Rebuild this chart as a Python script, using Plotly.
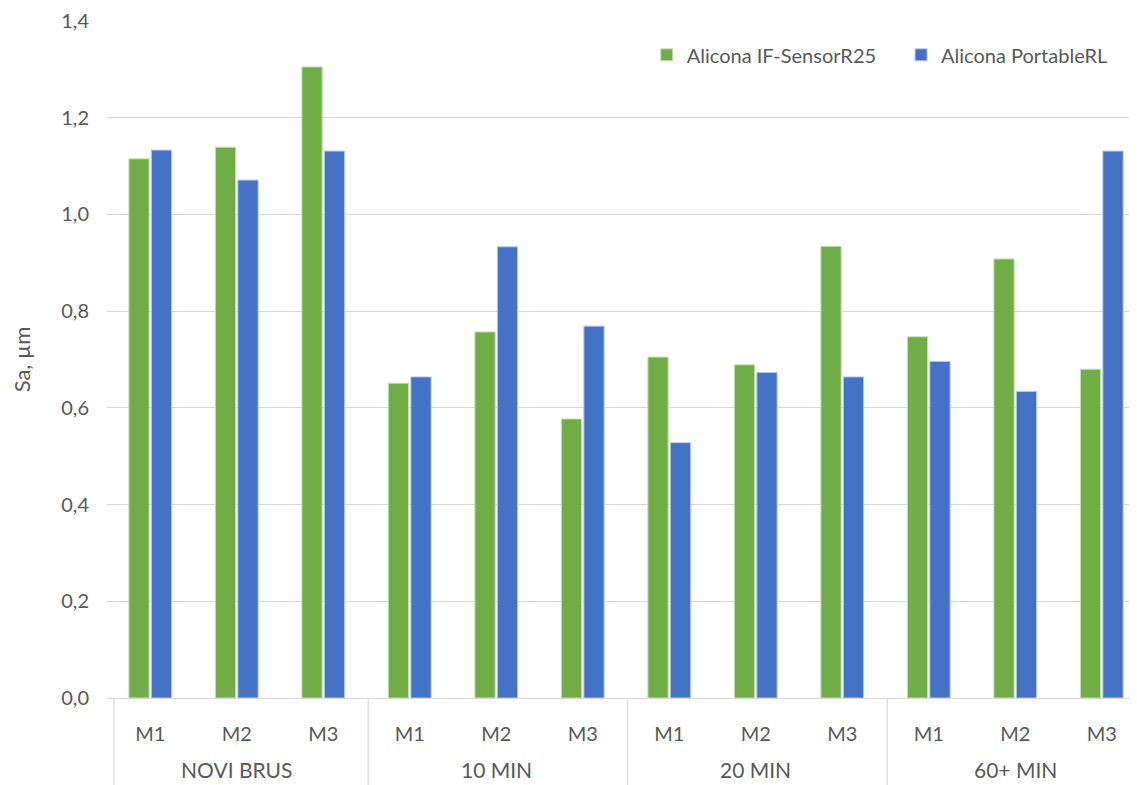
import plotly.graph_objects as go

groups = ["NOVI BRUS"] * 3 + ["10 MIN"] * 3 + ["20 MIN"] * 3 + ["60+ MIN"] * 3
samples = ["M1", "M2", "M3"] * 4
group_names = ["NOVI BRUS", "10 MIN", "20 MIN", "60+ MIN"]
sensor_r25 = [1.115, 1.139, 1.305, 0.651, 0.757, 0.577, 0.705, 0.689, 0.934, 0.747, 0.908, 0.680]
portable_rl = [1.133, 1.071, 1.131, 0.664, 0.933, 0.769, 0.528, 0.673, 0.664, 0.696, 0.634, 1.131]

keys = [f"{g}|{s}" for g, s in zip(groups, samples)]

FONT = "Lato, 'Open Sans', sans-serif"
GRAY = "#595959"
LINE = "#d9d9d9"

fig = go.Figure()
fig.add_trace(go.Bar(x=keys, y=sensor_r25, name="Alicona IF-SensorR25", legend="legend",
                     marker=dict(color="#70ad47", line=dict(color="#c5e0b4", width=1))))
fig.add_trace(go.Bar(x=keys, y=portable_rl, name="Alicona PortableRL", legend="legend2",
                     marker=dict(color="#4472c4", line=dict(color="#b4c7e7", width=1))))

# group labels (centred under the middle category of each group)
for name in group_names:
    idx = [i for i, g in enumerate(groups) if g == name]
    mid = keys[idx[len(idx) // 2]]
    fig.add_annotation(x=mid, xref="x", y=-0.106, yref="paper", text=name,
                       showarrow=False, yanchor="middle",
                       font=dict(family=FONT, size=21, color=GRAY))

# group dividers
starts = [i for i in range(len(groups)) if i == 0 or groups[i] != groups[i - 1]]
for i in starts:
    xpos = i - 0.5 + (0.08 if i == 0 else 0.02)
    fig.add_shape(type="line", xref="x", yref="paper", x0=xpos, x1=xpos,
                  y0=0, y1=-0.16, line=dict(color=LINE, width=1.2))

legend_style = dict(orientation="h", y=0.95, xanchor="left", yanchor="middle",
                    font=dict(size=20, color=GRAY), bgcolor="rgba(0,0,0,0)")

fig.update_layout(
    width=1137, height=785,
    margin=dict(l=99, r=0, t=13, b=95),
    paper_bgcolor="white", plot_bgcolor="white",
    barmode="group", bargap=0.48, bargroupgap=0.1,
    separators=",.",
    font=dict(family=FONT, size=20, color=GRAY),
    showlegend=True,
    legend=dict(x=0.52, **legend_style),
    legend2=dict(x=0.765, **legend_style),
    yaxis=dict(range=[0, 1.4], dtick=0.2, tickformat=".1f", showgrid=True,
               gridcolor=LINE, gridwidth=1.2, zeroline=False,
               ticks="", ticklabelstandoff=17, automargin=False,
               title=dict(text="Sa, µm", font=dict(size=22, color=GRAY), standoff=30),
               tickfont=dict(size=20, color=GRAY)),
    xaxis=dict(type="category", range=[-0.5, 11.5], showline=True, linecolor=LINE,
               linewidth=1.2, tickvals=keys, ticktext=samples, showgrid=False,
               ticks="", ticklabelstandoff=18, automargin=False,
               tickfont=dict(size=20, color=GRAY)),
)

fig.write_html("out.html")
